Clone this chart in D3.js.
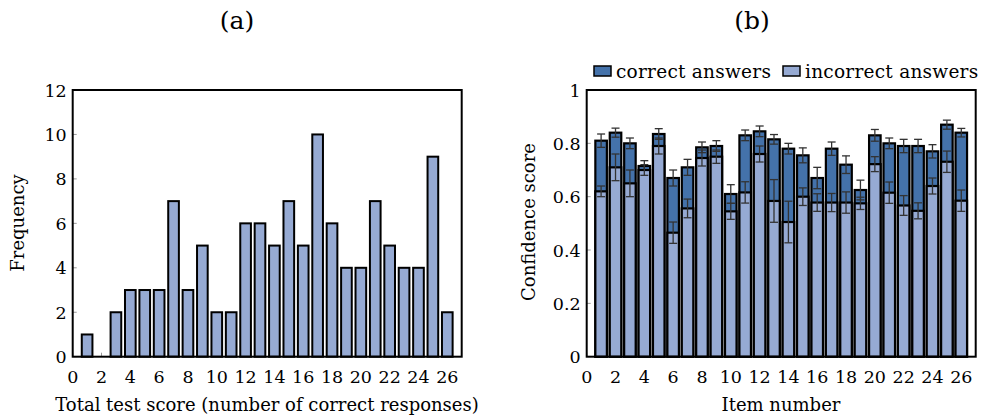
<!DOCTYPE html>
<html>
<head>
<meta charset="utf-8">
<script src="https://cdn.jsdelivr.net/npm/d3@7"></script>
<style>
  body { margin: 0; background: white; }
  svg text { font-family: "DejaVu Serif", "Liberation Serif", serif; fill: black; }
</style>
</head>
<body>
<svg id="chart" width="985" height="418"></svg>
<script>
// (a) histogram of total test scores
const scores = d3.range(1, 27);
const frequency = [1, 0, 2, 3, 3, 3, 7, 3, 5, 2, 2, 6, 6, 5, 7, 5, 10, 6, 4, 4, 7, 5, 4, 4, 9, 2];

// (b) confidence per item
const items = d3.range(1, 27);
const correctMean = [0.81, 0.84, 0.80, 0.715, 0.835, 0.67, 0.71, 0.785, 0.79, 0.61, 0.83, 0.845, 0.815, 0.78, 0.755, 0.67, 0.78, 0.72, 0.625, 0.83, 0.80, 0.79, 0.79, 0.77, 0.87, 0.84];
const correctErr = [0.025, 0.017, 0.02, 0.02, 0.02, 0.03, 0.03, 0.02, 0.02, 0.035, 0.02, 0.02, 0.018, 0.02, 0.028, 0.04, 0.025, 0.033, 0.037, 0.022, 0.02, 0.025, 0.025, 0.025, 0.017, 0.016];
const incorrectMean = [0.62, 0.71, 0.65, 0.70, 0.79, 0.465, 0.556, 0.745, 0.75, 0.545, 0.616, 0.76, 0.584, 0.505, 0.60, 0.578, 0.578, 0.578, 0.575, 0.722, 0.615, 0.567, 0.547, 0.64, 0.731, 0.585];
const incorrectErr = [0.02, 0.05, 0.05, 0.02, 0.03, 0.04, 0.035, 0.03, 0.025, 0.03, 0.04, 0.03, 0.08, 0.078, 0.033, 0.033, 0.034, 0.04, 0.023, 0.028, 0.04, 0.037, 0.03, 0.03, 0.04, 0.04];

const xTicks = d3.range(0, 27, 2);
const darkBlue = "#4472aa";
const lightBlue = "#96aad3";

const svg = d3.select("#chart");
const plotTop = 90, plotBottom = 356.7;

function frame(g, x, y, yTicks, yFmt) {
  // inner ticks
  g.selectAll(".yt").data(yTicks).enter().append("line")
    .attr("x1", x.range()[0]).attr("x2", x.range()[0] + 4)
    .attr("y1", d => y(d)).attr("y2", d => y(d))
    .attr("stroke", "#999").attr("stroke-width", 1);
  g.selectAll(".xt").data(xTicks).enter().append("line")
    .attr("x1", d => x(d)).attr("x2", d => x(d))
    .attr("y1", plotBottom).attr("y2", plotBottom - 4)
    .attr("stroke", "#999").attr("stroke-width", 1);
  g.selectAll(".yl").data(yTicks).enter().append("text")
    .attr("x", x.range()[0] - 6).attr("y", d => y(d) + 6.5)
    .attr("text-anchor", "end").attr("font-size", 17.5)
    .text(yFmt);
  g.selectAll(".xl").data(xTicks).enter().append("text")
    .attr("x", d => x(d)).attr("y", plotBottom + 26)
    .attr("text-anchor", "middle").attr("font-size", 17.5)
    .text(d => d);
}

function box(g, x) {
  g.append("rect")
    .attr("x", x.range()[0]).attr("y", plotTop)
    .attr("width", x.range()[1] - x.range()[0]).attr("height", plotBottom - plotTop)
    .attr("fill", "none").attr("stroke", "black").attr("stroke-width", 2);
}

// ---------- panel (a)
const gA = svg.append("g");
const xA = d3.scaleLinear().domain([0, 27]).range([72.7, 461.7]);
const yA = d3.scaleLinear().domain([0, 12]).range([plotBottom, plotTop]);
frame(gA, xA, yA, d3.range(0, 13, 2), d => d);

gA.selectAll(".bar").data(frequency).enter().append("rect")
  .attr("x", (d, i) => xA(scores[i] - 0.37))
  .attr("width", xA(0.74) - xA(0))
  .attr("y", d => yA(d))
  .attr("height", d => yA(0) - yA(d))
  .attr("fill", lightBlue).attr("stroke", "black").attr("stroke-width", 2);
box(gA, xA);

gA.append("text").attr("x", 237).attr("y", 29).attr("text-anchor", "middle")
  .attr("font-size", 25).text("(a)");
gA.append("text").attr("x", 267).attr("y", 411).attr("text-anchor", "middle")
  .attr("font-size", 18).text("Total test score (number of correct responses)");
gA.append("text").attr("transform", "translate(24,223) rotate(-90)")
  .attr("text-anchor", "middle").attr("font-size", 18).text("Frequency");

// ---------- panel (b)
const gB = svg.append("g");
const xB = d3.scaleLinear().domain([0, 27]).range([586.7, 975.7]);
const yB = d3.scaleLinear().domain([0, 1]).range([plotBottom, plotTop]);
frame(gB, xB, yB, [0, 0.2, 0.4, 0.6, 0.8, 1], d => d === 0 ? "0" : d === 1 ? "1" : d3.format(".1f")(d));

const bw = xB(0.8) - xB(0);

function series(means, fill) {
  const s = gB.append("g");
  s.selectAll("rect").data(means).enter().append("rect")
    .attr("x", (d, i) => xB(items[i]) - bw / 2)
    .attr("width", bw)
    .attr("y", d => yB(d))
    .attr("height", d => yB(0) - yB(d))
    .attr("fill", fill).attr("stroke", "black").attr("stroke-width", 2.2);
  return s;
}
function errorBars(means, errs) {
  const e = gB.append("g").attr("stroke", "#333").attr("stroke-width", 1.3);
  means.forEach((m, i) => {
    const cx = xB(items[i]);
    e.append("line").attr("x1", cx).attr("x2", cx)
      .attr("y1", yB(m + errs[i])).attr("y2", yB(m - errs[i]));
    [m + errs[i], m - errs[i]].forEach(v => {
      e.append("line").attr("x1", cx - 4).attr("x2", cx + 4)
        .attr("y1", yB(v)).attr("y2", yB(v));
    });
  });
}
series(correctMean, darkBlue);
errorBars(correctMean, correctErr);
series(incorrectMean, lightBlue);
errorBars(incorrectMean, incorrectErr);
box(gB, xB);

gB.append("text").attr("x", 752).attr("y", 29).attr("text-anchor", "middle")
  .attr("font-size", 25).text("(b)");
gB.append("text").attr("x", 781).attr("y", 411).attr("text-anchor", "middle")
  .attr("font-size", 18).text("Item number");
gB.append("text").attr("transform", "translate(535,222) rotate(-90)")
  .attr("text-anchor", "middle").attr("font-size", 18).text("Confidence score");

// legend
const legend = [
  { label: "correct answers", fill: darkBlue, x: 594 },
  { label: "incorrect answers", fill: lightBlue, x: 783 }
];
const lg = gB.selectAll(".leg").data(legend).enter().append("g");
lg.append("rect").attr("x", d => d.x).attr("y", 66).attr("width", 17).attr("height", 10)
  .attr("fill", d => d.fill).attr("stroke", "black").attr("stroke-width", 1.5);
lg.append("text").attr("x", d => d.x + 22).attr("y", 78).attr("font-size", 18.5)
  .attr("letter-spacing", 0.25)
  .text(d => d.label);
</script>
</body>
</html>
